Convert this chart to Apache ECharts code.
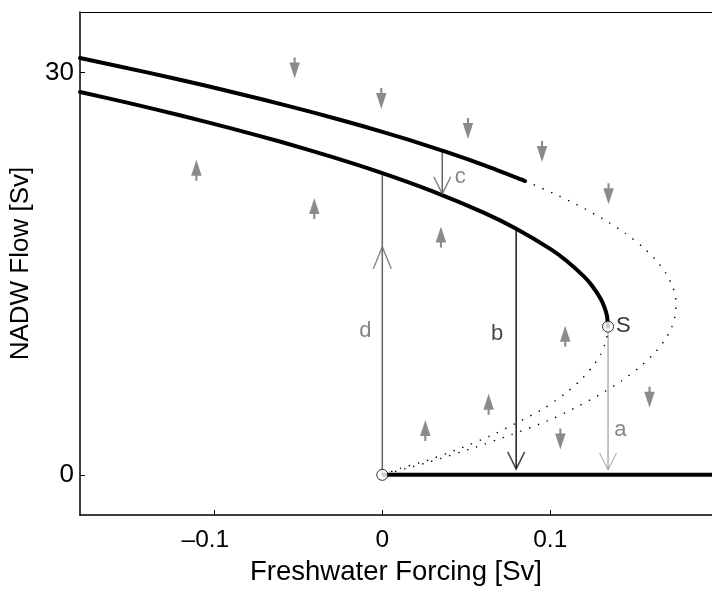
<!DOCTYPE html>
<html>
<head>
<meta charset="utf-8">
<script src="https://cdn.jsdelivr.net/npm/echarts@6/dist/echarts.min.js"></script>
<style>
html,body{margin:0;padding:0;background:#fff;}
#chart{width:712px;height:591px;}
</style>
</head>
<body>
<div id="chart"></div>
<script>
// ---- data ----
var xTicks = [-0.1, 0, 0.1];
var yTicks = [0, 30];

// stable upper branch (outer fold, solid)
var upperBranch = [[-0.18,31.07],[-0.1401,30],[-0.1049,29],[-0.0718,28],[-0.0408,27],[-0.0119,26],[0.015,25],[0.0398,24],[0.0625,23],[0.0831,22],[0.085,21.9]];
// unstable continuation of outer fold (dotted)
var outerDotted = [[0.085,21.9],[0.1016,21],[0.118,20],[0.1324,19],[0.1447,18],[0.1549,17],[0.163,16],[0.169,15],[0.173,14],[0.1748,13],[0.1746,12],[0.1723,11],[0.168,10],[0.1615,9],[0.153,8],[0.1424,7],[0.1297,6],[0.1149,5],[0.098,4],[0.077,3],[0.054,2],[0.029,1],[0.015,0.5],[0,0]];
// stable middle branch ending at saddle-node S
var middleBranch = [[-0.18,28.54],[-0.15,27.69],[-0.12,26.79],[-0.09,25.83],[-0.06,24.81],[-0.03,23.70],[0,22.49],[0.03,21.13],[0.06,19.56],[0.08,18.33],[0.1,16.84],[0.11,15.92],[0.12,14.79],[0.125,14.08],[0.13,13.12],[0.1325,12.41],[0.1338,11.81],[0.1344,11.05]];
// unstable branch from S to origin (dotted)
var innerDotted = [[0.1344,11.05],[0.1333,10],[0.1301,9],[0.1248,8],[0.1176,7],[0.1082,6],[0.0968,5],[0.082,4],[0.066,3],[0.047,2],[0.025,1],[0.011,0.5],[0,0]];
// off state
var lowerBranch = [[0,0],[0.2,0]];

// special points: origin and S
var circlePoints = [[0,0],[0.1344,11.05]];

// transition arrows a, b, c, d
var arrowNames = ['d','c','b','a'];
var arrowX = [0, 0.0357, 0.0797, 0.1344];
var arrowFrom = [0, 24.1, 18.4, 10.6];
var arrowTo = [22.49, 20.9, 0.44, 0.37];
var arrowHeadY = [17.0, 20.95, 0.44, 0.37];

// text labels
var labelTexts = ['d','c','b','a','S'];
var labelX = [-0.0101, 0.0464, 0.0684, 0.1417, 0.1435];
var labelY = [10.7, 22.2, 10.5, 3.37, 11.1];

// flow direction markers
var upArrows = [[-0.1107,22.71],[-0.0405,19.85],[0.0349,17.73],[0.1089,10.33],[0.0633,5.27],[0.0256,3.30]];
var downArrows = [[-0.0522,30.33],[-0.0006,28.06],[0.051,25.82],[0.0951,24.1],[0.1347,20.95],[0.1591,5.79],[0.106,2.67]];

// ---- styles ----
var FONT = '"Liberation Sans", Arial, Helvetica, sans-serif';
var arrowColors = ['#666666','#666666','#1a1a1a','#8a8a8a'];
var arrowWidths = [1.5, 1.5, 1.5, 1];
var labelColors = ['#666666','#666666','#1a1a1a','#666666','#000000'];
var flowColor = '#6e6e6e';

var chart = echarts.init(document.getElementById('chart'), null, {renderer:'canvas'});

var series = [];
function solid(data){
  return {type:'line', data:data, symbol:'none', smooth:0.2, clip:true, silent:true,
    lineStyle:{color:'#000', width:4, cap:'round'}, z:5};
}
function dotted(data){
  return {type:'line', data:data, symbol:'none', smooth:0.2, clip:true, silent:true,
    lineStyle:{color:'#000', width:1.4, type:[1.4,8]}, z:4};
}
series.push(solid(upperBranch));
series.push(solid(middleBranch));
series.push({type:'line', data:lowerBranch, symbol:'none', clip:true, silent:true,
  lineStyle:{color:'#000', width:4}, z:5});
series.push(dotted(outerDotted));
series.push(dotted(innerDotted));

for (var i=0;i<arrowNames.length;i++){
  series.push({type:'line', silent:true, symbol:'none', z:3,
    data:[[arrowX[i],arrowFrom[i]],[arrowX[i],arrowTo[i]]],
    lineStyle:{color:arrowColors[i], width:arrowWidths[i]}});
  var up = arrowTo[i] > arrowFrom[i];
  series.push({type:'scatter', silent:true, z:6,
    data:[[arrowX[i], arrowHeadY[i]]],
    symbol: up ? 'path://M0,22 L9,0 L18,22' : 'path://M0,0 L8.5,17 L17,0',
    symbolSize: up ? [18,22] : [17,17],
    symbolOffset: up ? [0,11] : [0,-8.5],
    itemStyle:{color:'rgba(0,0,0,0)', borderColor:arrowColors[i], borderWidth:arrowWidths[i]}});
}

series.push({type:'scatter', silent:true, z:7, data:upArrows,
  symbol:'path://M5,0 L10,16 L6,16 L6,21 L4,21 L4,16 L0,16 Z', symbolSize:[10.5,21],
  itemStyle:{color:flowColor}});
series.push({type:'scatter', silent:true, z:7, data:downArrows,
  symbol:'path://M4,0 L6,0 L6,5 L10,5 L5,21 L0,5 L4,5 Z', symbolSize:[10.5,21],
  itemStyle:{color:flowColor}});

series.push({type:'scatter', silent:true, z:10, data:circlePoints, symbol:'circle', symbolSize:11,
  itemStyle:{color:'#fff', borderColor:'#000', borderWidth:1}});

var labelData = [];
for (var j=0;j<labelTexts.length;j++){
  labelData.push({value:[labelX[j],labelY[j]],
    label:{show:true, position:'inside', formatter:labelTexts[j], color:labelColors[j],
      fontSize:22, fontFamily:FONT}});
}
series.push({type:'scatter', silent:true, z:11, data:labelData, symbolSize:1,
  itemStyle:{color:'rgba(0,0,0,0)'}});

var option = {
  animation:false,
  backgroundColor:'#fff',
  grid:{left:80, right:0, top:12, bottom:67, containLabel:false},
  xAxis:[{
    type:'value', min:-0.18, max:0.1963, position:'bottom',
    name:'Freshwater Forcing [Sv]', nameLocation:'middle', nameGap:38,
    nameTextStyle:{fontSize:27.5, fontFamily:FONT, color:'#000'},
    axisLine:{show:true, onZero:false, lineStyle:{color:'#000', width:1.5}},
    axisTick:{show:true, inside:true, length:5, customValues:xTicks, lineStyle:{color:'#000'}},
    axisLabel:{show:true, margin:13, fontSize:24.5, fontFamily:FONT, color:'#000', customValues:xTicks,
      formatter:function(v){
        if (Math.abs(v)<1e-9) return '0';
        if (v<0) return '{neg|\u2013' + Math.abs(v).toFixed(1) + '}';
        return v.toFixed(1);
      },
      rich:{neg:{fontSize:24.5, fontFamily:FONT, color:'#000', padding:[0,18,0,0]}}
    },
    splitLine:{show:false}
  },{
    type:'value', min:-0.18, max:0.1963, position:'top',
    axisLine:{show:true, onZero:false, lineStyle:{color:'#000', width:1}},
    axisTick:{show:false}, axisLabel:{show:false}, splitLine:{show:false}
  }],
  yAxis:{
    type:'value', min:-3, max:34.5,
    name:'NADW Flow [Sv]', nameLocation:'middle', nameGap:42,
    nameTextStyle:{fontSize:26, fontFamily:FONT, color:'#000'},
    axisLine:{show:true, onZero:false, lineStyle:{color:'#000', width:1.5}},
    axisTick:{show:true, inside:true, length:5, customValues:yTicks, lineStyle:{color:'#000'}},
    axisLabel:{show:true, margin:6, fontSize:26, fontFamily:FONT, color:'#000', customValues:yTicks},
    splitLine:{show:false}
  },
  series:series
};
chart.setOption(option);
</script>
</body>
</html>
